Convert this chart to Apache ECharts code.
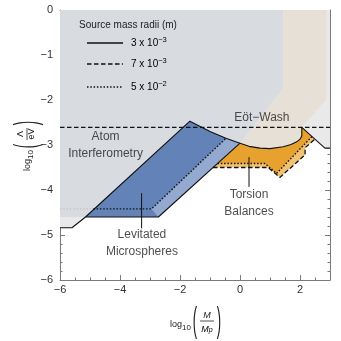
<!DOCTYPE html>
<html><head><meta charset="utf-8">
<script src="https://cdn.jsdelivr.net/npm/echarts@6/dist/echarts.min.js"></script>
<style>html,body{margin:0;padding:0;background:#fff}#c{width:341px;height:341px}</style>
</head><body><div id="c"></div>
<script>
// ---- data (log10 M/Mp , log10 Lambda/eV) ----
const xTicks = [-6, -4, -2, 0, 2];
const yTicks = [-6, -5, -4, -3, -2, -1, 0];
const blueTop = [[-1.67,-2.47],[-1.0,-2.7],[-0.47,-2.85],[0,-2.96]];
const ewCurve = [[0,-2.96],[0.3,-3.03],[0.67,-3.07],[1.0,-3.08],[1.44,-3.04],[1.7,-2.99],[1.89,-2.93],[2.0,-2.87],[2.06,-2.8],[2.06,-2.61]];
const ewRight = [[2.06,-2.61],[2.83,-3.07],[3,-3.07]];
const atomEdge = [[-6,0],[1.44,0],[1.44,-1.74]];
const atomFloor = [[-5.15,-4.6],[-6,-4.6]];
const baseFloor = [[-5.15,-4.6],[-5.6,-4.84],[-6,-4.84]];
const beigeEdge = [[1.44,0],[2.88,0],[2.88,-1.98]];
const beigeCorner = [[1.44,-1.74]];
const blueBottom = [[-2.72,-4.6]];
const blueDotted = [[-4.89,-4.42],[-2.95,-4.42],[-0.47,-2.85]];
const darkBlueClose = [[-2.95,-4.42],[-2.72,-4.6]];
const orangeDashed = [[-0.9,-3.5],[0.94,-3.5],[1.33,-3.72],[2.17,-3.22],[2.17,-3.06],[2.5,-2.87]];
const orangeDotted = [[-0.75,-3.41],[0.83,-3.41],[1.22,-3.63],[2.4,-2.81]];
const solidLower = [[-6,-4.84],[-5.6,-4.84],[-5.15,-4.6],[-2.72,-4.6],[0,-2.96]];
const eotWashLevel = -2.61;
const torsionPointer = [[0.3,-3.27],[0.3,-3.93]];
const levitatedPointer = [[-3.28,-4.07],[-3.28,-4.85]];
const regionLabels = [
  {name:'Atom\nInterferometry', value:[-4.48,-3.01]},
  {name:'Eöt−Wash', value:[0.73,-2.4]},
  {name:'Torsion\nBalances', value:[0.3,-4.29]},
  {name:'Levitated\nMicrospheres', value:[-3.27,-5.19]}
];
const legendNames = ['3 x 10', '7 x 10', '5 x 10'];
const legendExp = ['−3', '−3', '−2'];

// ---- build polygons ----
const rev = a => a.slice().reverse();
const basePoly = [[-6,0],[3,0]].concat(rev(ewRight), rev(ewCurve).slice(1, -1), rev(blueTop), baseFloor);
const atomPoly = atomEdge.concat(rev(blueTop), atomFloor);
const beigePoly = beigeEdge.concat(rev(ewCurve), beigeCorner);
const lightBluePoly = [[-5.15,-4.6]].concat(blueTop, blueBottom);
const darkBluePoly = [[-5.15,-4.6]].concat(blueTop.slice(0,3), darkBlueClose);
const lightOrangePoly = ewCurve.concat([[2.5,-2.87]], rev(orangeDashed).slice(1));
const darkOrangePoly = ewCurve.concat(rev(orangeDotted));
const solidUpper = [[-5.15,-4.6]].concat(blueTop, ewCurve.slice(1), ewRight.slice(1));

function poly(data, fill) {
  return {
    type:'custom', data: data, silent:true, clip:true, encode:{x:0,y:1},
    renderItem: function(params, api) {
      if (params.dataIndex !== 0) return;
      const pts = data.map(p => api.coord(p));
      return {type:'polygon', shape:{points:pts}, style:{fill:fill, stroke:null}};
    }
  };
}
function line(data, type, width, color) {
  return {type:'line', data:data, symbol:'none', silent:true, z:5,
    lineStyle:{type:type, width:width, color:color||'#111'}};
}
const fmt = v => String(v).replace('-', '−');
const tickFont = {fontFamily:'Liberation Sans', fontSize:11, color:'#333'};
const axLine = {show:true, onZero:false, lineStyle:{color:'#7a7a7a', width:1}};
const tick = {inside:true, length:5, lineStyle:{color:'#7a7a7a'}};
const minorX = {show:true, splitNumber:4, length:2.5, lineStyle:{color:'#7a7a7a'}};
const minorY = {show:true, splitNumber:5, length:2.5, lineStyle:{color:'#7a7a7a'}};

const chart = echarts.init(document.getElementById('c'));
const txt = {fontFamily:'Liberation Sans', fill:'#222'};
const legendGraphics = [
  {type:'text', x:128, y:25, z:100, style:Object.assign({text:'Source mass radii (m)', fontSize:10, align:'center', verticalAlign:'middle'}, txt)},
  {type:'line', z:100, shape:{x1:87,y1:43,x2:123,y2:43}, style:{stroke:'#111', lineWidth:1.3}},
  {type:'line', z:100, shape:{x1:87,y1:64,x2:123,y2:64}, style:{stroke:'#111', lineWidth:1.3, lineDash:[4.5,2.5]}},
  {type:'line', z:100, shape:{x1:87,y1:87,x2:123,y2:87}, style:{stroke:'#111', lineWidth:1.4, lineDash:[1.5,1.8]}}
].concat([43,64,87].map((yy,i) => ({type:'text', x:131, y:yy, z:100, style:{
  text:'{b|'+legendNames[i]+'}{s|'+legendExp[i]+'}', verticalAlign:'middle',
  rich:{b:{fontSize:10, fontFamily:'Liberation Sans', color:'#222'},
        s:{fontSize:7.5, fontFamily:'Liberation Sans', color:'#222', padding:[0,0,7,0]}}}})));

chart.setOption({
  animation:false,
  grid:{left:60, right:11, top:10, bottom:61},
  xAxis:[
    {type:'value', min:-6, max:3, interval:2, axisLine:axLine, axisTick:tick, minorTick:minorX,
     splitLine:{show:false}, axisLabel:Object.assign({margin:4, showMaxLabel:false, formatter:v => xTicks.includes(v)?fmt(v):''}, tickFont)},
    {type:'value', position:'top', min:-6, max:3, interval:2, axisLine:axLine, axisTick:tick, minorTick:minorX,
     splitLine:{show:false}, axisLabel:{show:false}}
  ],
  yAxis:[
    {type:'value', min:-6, max:0, interval:1, axisLine:axLine, axisTick:tick, minorTick:minorY,
     splitLine:{show:false}, axisLabel:Object.assign({margin:7, formatter:v => yTicks.includes(v)?fmt(v):''}, tickFont)},
    {type:'value', position:'right', min:-6, max:0, interval:1, axisLine:axLine, axisTick:tick, minorTick:minorY,
     splitLine:{show:false}, axisLabel:{show:false}}
  ],
  series:[
    poly(basePoly, '#e9e9e9'),
    poly(atomPoly, '#d8dbe0'),
    poly(beigePoly, '#e6e0d6'),
    poly(lightBluePoly, '#93a9cf'),
    poly(darkBluePoly, '#6383b8'),
    poly(lightOrangePoly, '#f0c272'),
    poly(darkOrangePoly, '#e7a12f'),
    line([[-6,-4.42],[-4.89,-4.42]], [1.5,1.8], 1.2, '#c4c4c4'),
    line(solidLower, 'solid', 1.1),
    line(solidUpper, 'solid', 1.1),
    line([[-6,eotWashLevel],[3,eotWashLevel]], [4.5,2.5], 1.3),
    line(orangeDashed, [4.5,2.5], 1.3),
    line(orangeDotted, [1.5,1.8], 1.4),
    line(blueDotted, [1.5,1.8], 1.4),
    line(torsionPointer, 'solid', 1),
    line(levitatedPointer, 'solid', 1),
    {type:'scatter', data:regionLabels, symbolSize:0, silent:true, z:6,
     label:{show:true, position:'inside', formatter:p => p.name, fontFamily:'Liberation Sans',
            fontSize:12, color:'#222', lineHeight:17, align:'center', verticalAlign:'middle'}}
  ],
  graphic: legendGraphics.concat([
    // x-axis title
    {type:'group', x:195, y:322, children:[
      {type:'text', x:-13, y:3, style:Object.assign({text:'log', fontSize:9, align:'right', verticalAlign:'middle'}, txt)},
      {type:'text', x:-13, y:6, style:Object.assign({text:'10', fontSize:8, align:'left', verticalAlign:'middle'}, txt)},
      {type:'text', x:0, y:0, scaleY:2.7, style:Object.assign({text:'(', fontSize:13, align:'center', verticalAlign:'middle'}, txt)},
      {type:'text', x:12, y:-7, style:Object.assign({text:'M', fontSize:9, fontStyle:'italic', align:'center', verticalAlign:'middle'}, txt)},
      {type:'line', shape:{x1:5,y1:-1,x2:19,y2:-1}, style:{stroke:'#222', lineWidth:0.8}},
      {type:'text', x:12, y:7, style:{text:'{m|M}{p|p}', align:'center', verticalAlign:'middle',
        rich:{m:{fontSize:9, fontStyle:'italic', fontFamily:'Liberation Sans', color:'#222'},
              p:{fontSize:7, fontStyle:'italic', fontFamily:'Liberation Sans', color:'#222', padding:[3,0,0,0]}}}},
      {type:'text', x:24, y:0, scaleY:2.7, style:Object.assign({text:')', fontSize:13, align:'center', verticalAlign:'middle'}, txt)}
    ]},
    // y-axis title (rotated)
    {type:'group', x:27, y:146, rotation:Math.PI/2, children:[
      {type:'text', x:-13, y:1, style:Object.assign({text:'log', fontSize:9, align:'right', verticalAlign:'middle'}, txt)},
      {type:'text', x:-13, y:4, style:Object.assign({text:'10', fontSize:8, align:'left', verticalAlign:'middle'}, txt)},
      {type:'text', x:0, y:0, scaleY:2.4, style:Object.assign({text:'(', fontSize:13, align:'center', verticalAlign:'middle'}, txt)},
      {type:'text', x:12, y:-6, style:Object.assign({text:'Λ', fontSize:9, align:'center', verticalAlign:'middle'}, txt)},
      {type:'line', shape:{x1:6,y1:0,x2:18,y2:0}, style:{stroke:'#222', lineWidth:0.8}},
      {type:'text', x:12, y:5, style:Object.assign({text:'eV', fontSize:9, align:'center', verticalAlign:'middle'}, txt)},
      {type:'text', x:23, y:0, scaleY:2.4, style:Object.assign({text:')', fontSize:13, align:'center', verticalAlign:'middle'}, txt)}
    ]}
  ])
});
</script></body></html>
